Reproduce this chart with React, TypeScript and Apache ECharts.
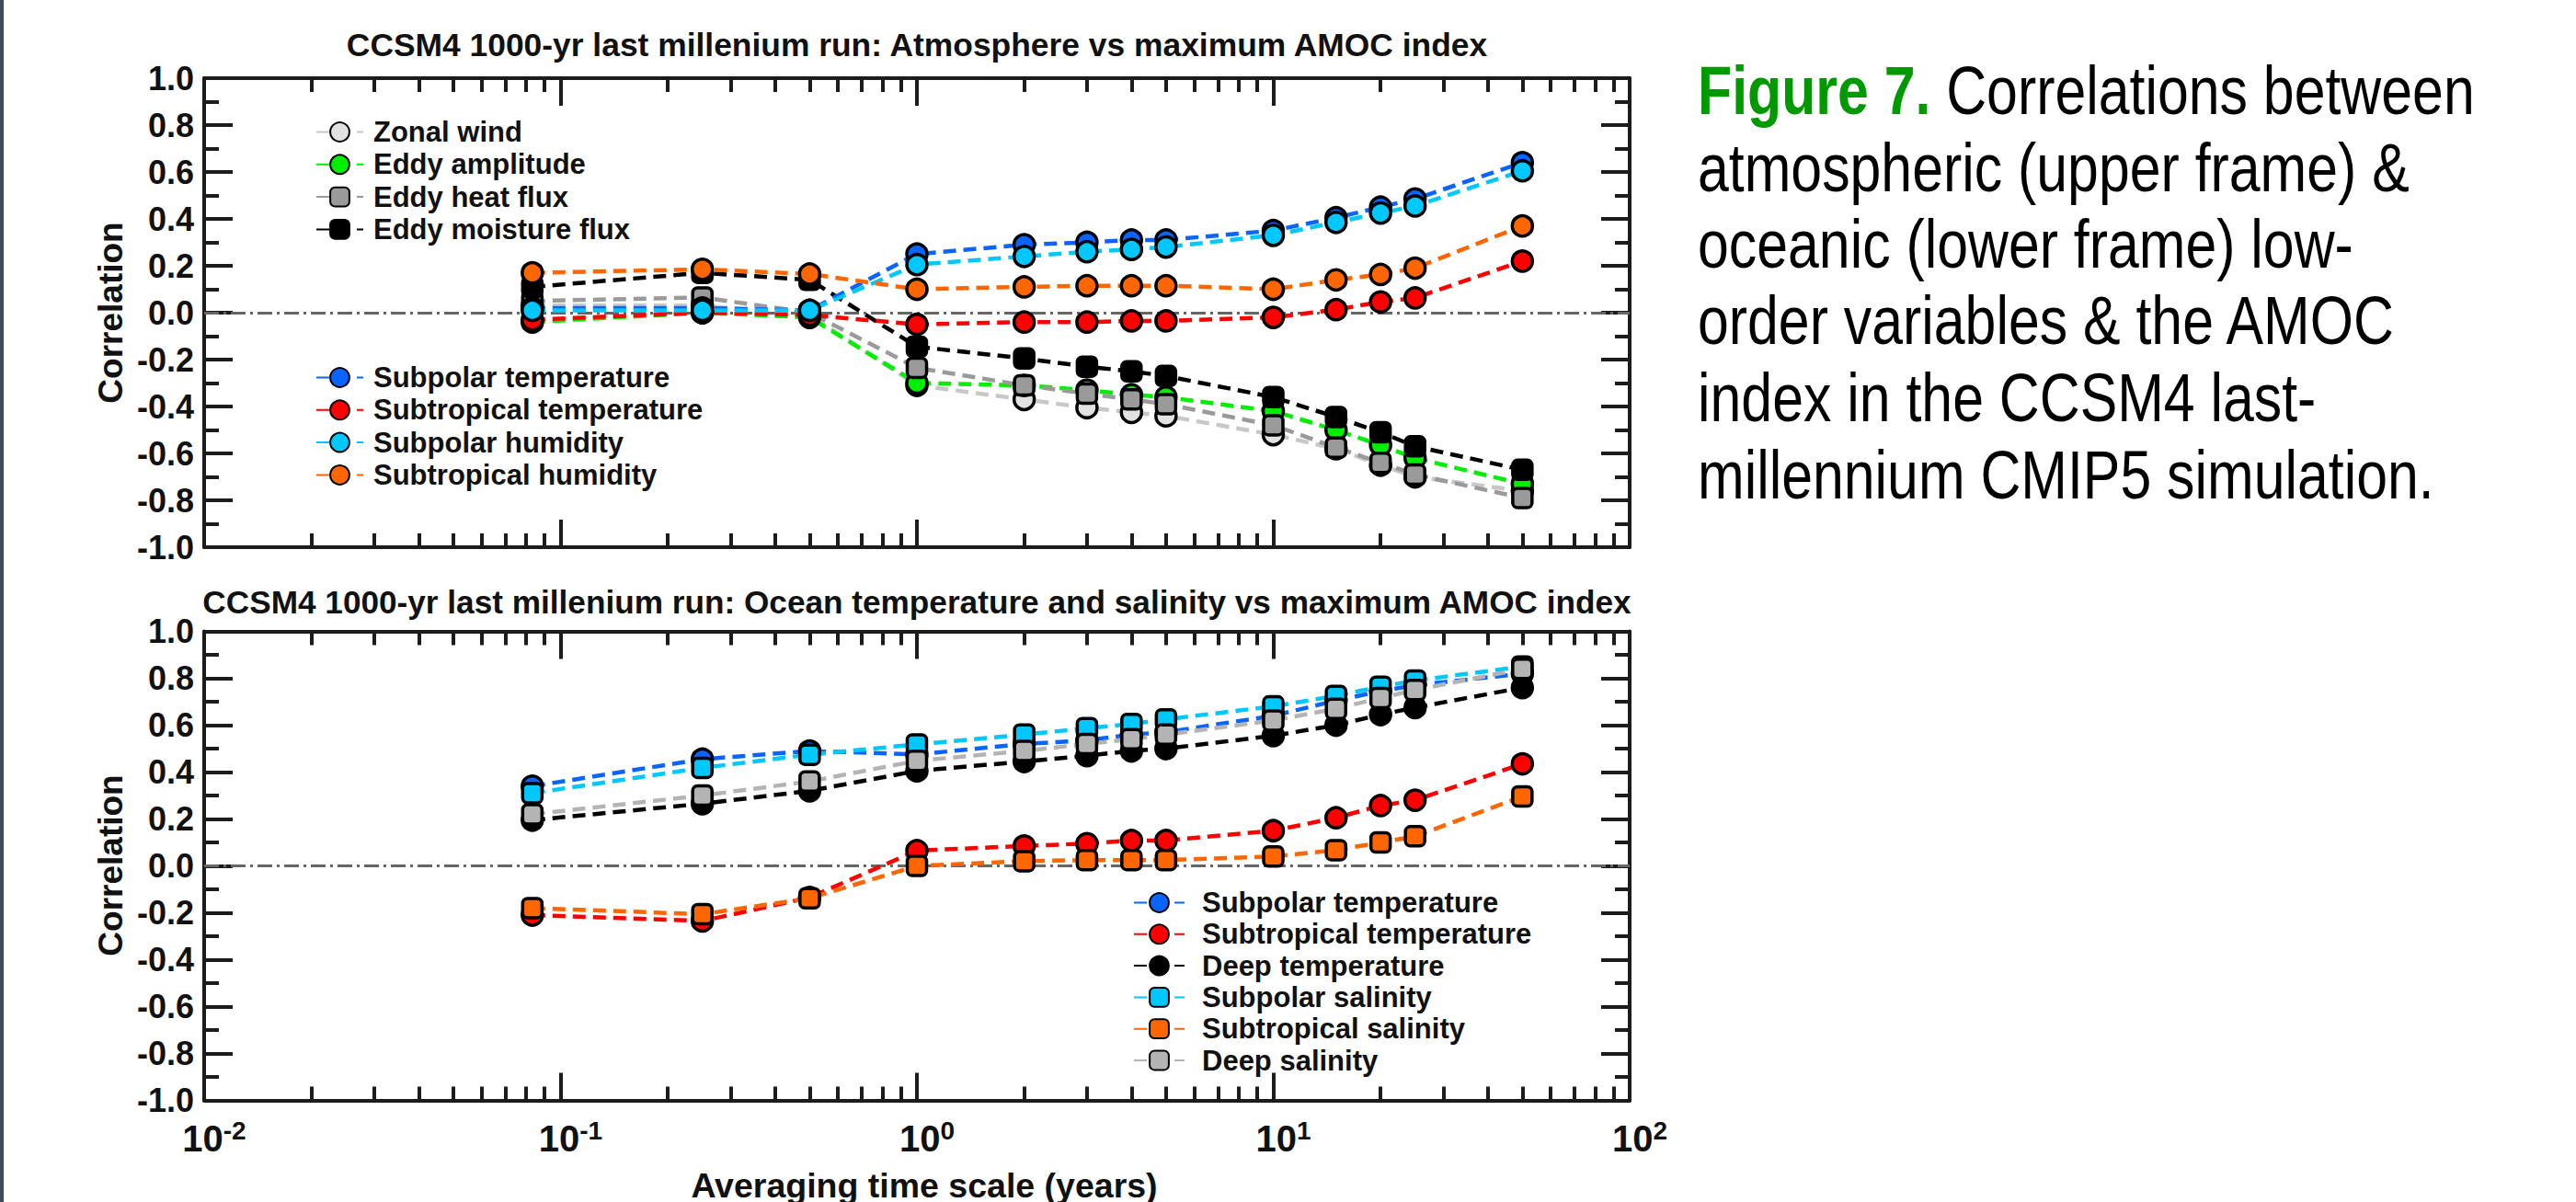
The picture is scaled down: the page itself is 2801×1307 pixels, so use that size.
import React, { useEffect, useRef } from "react";
import * as echarts from "echarts";

const FONT = '"Liberation Sans", Arial, Helvetica, sans-serif';

// Averaging time scales (years)
const timeScales = [1 / 12, 0.25, 0.5, 1, 2, 3, 4, 5, 10, 15, 20, 25, 50];

// Upper frame: atmosphere
const zonalWind = [0.03, 0.03, -0.01, -0.31, -0.37, -0.405, -0.425, -0.44, -0.52, -0.58, -0.65, -0.7, -0.76];
const eddyAmplitude = [-0.04, 0.0, -0.02, -0.3, -0.31, -0.33, -0.35, -0.36, -0.42, -0.5, -0.565, -0.62, -0.73];
const eddyHeatFlux = [0.05, 0.065, 0.0, -0.235, -0.31, -0.345, -0.37, -0.39, -0.48, -0.575, -0.64, -0.69, -0.79];
const eddyMoistureFlux = [0.11, 0.17, 0.14, -0.145, -0.195, -0.23, -0.25, -0.27, -0.36, -0.445, -0.51, -0.57, -0.67];
const subpolarTempAtm = [0.02, 0.02, 0.01, 0.25, 0.29, 0.3, 0.31, 0.31, 0.35, 0.405, 0.45, 0.485, 0.64];
const subtropTempAtm = [-0.03, 0.0, -0.01, -0.05, -0.04, -0.04, -0.035, -0.035, -0.02, 0.013, 0.046, 0.063, 0.22];
const subpolarHumidity = [0.01, 0.01, 0.01, 0.205, 0.24, 0.26, 0.27, 0.28, 0.33, 0.385, 0.425, 0.455, 0.605];
const subtropHumidity = [0.17, 0.185, 0.165, 0.1, 0.11, 0.115, 0.115, 0.115, 0.1, 0.14, 0.163, 0.19, 0.37];

// Lower frame: ocean
const subpolarTempOcn = [0.34, 0.455, 0.49, 0.475, 0.52, 0.535, 0.56, 0.57, 0.64, 0.705, 0.745, 0.77, 0.82];
const subtropTempOcn = [-0.21, -0.235, -0.135, 0.065, 0.085, 0.095, 0.108, 0.108, 0.15, 0.205, 0.257, 0.28, 0.435];
const deepTemp = [0.195, 0.265, 0.32, 0.405, 0.445, 0.47, 0.49, 0.5, 0.555, 0.6, 0.645, 0.675, 0.76];
const subpolarSalinity = [0.31, 0.418, 0.474, 0.518, 0.56, 0.587, 0.605, 0.625, 0.68, 0.725, 0.764, 0.79, 0.85];
const subtropSalinity = [-0.18, -0.206, -0.138, 0.0, 0.02, 0.025, 0.025, 0.025, 0.04, 0.067, 0.1, 0.126, 0.296];
const deepSalinity = [0.22, 0.3, 0.36, 0.448, 0.49, 0.52, 0.54, 0.56, 0.62, 0.67, 0.716, 0.75, 0.84];

// Axis ticks
const majorXTicks = [0.01, 0.1, 1, 10, 100];
const minorXTicks = [
  0.02, 0.03, 0.04, 0.05, 0.06, 0.07, 0.08, 0.09,
  0.2, 0.3, 0.4, 0.5, 0.6, 0.7, 0.8, 0.9,
  2, 3, 4, 5, 6, 7, 8, 9,
  20, 30, 40, 50, 60, 70, 80, 90,
];
const xTickExponents = ["-2", "-1", "0", "1", "2"];

const titleTop = "CCSM4 1000-yr last millenium run: Atmosphere vs maximum AMOC index";
const titleBottom = "CCSM4 1000-yr last millenium run: Ocean temperature and salinity vs maximum AMOC index";
const xTitle = "Averaging time scale (years)";
const yTitle = "Correlation";
const captionLines = [
  "atmospheric (upper frame) &",
  "oceanic (lower frame) low-",
  "order variables & the AMOC",
  "index in the CCSM4 last-",
  "millennium CMIP5 simulation.",
];

const AXIS_COLOR = "#1c1c1c";
const GRID_LEFT = 222;
const GRID_W = 1550;
const GRID_H = 510;
const GRID_TOPS = [85, 686.5];

function makeSeries(
  name: string,
  values: number[],
  lineColor: string,
  fillColor: string,
  symbol: string,
  grid: number,
  withZero: boolean
) {
  const s: any = {
    type: "line",
    name,
    xAxisIndex: grid * 4,
    yAxisIndex: grid * 2,
    data: timeScales.map((t, i) => [t, values[i]]),
    symbol,
    symbolSize: symbol === "circle" ? 22 : 21,
    lineStyle: { color: lineColor, width: 4.5, type: [14, 8] },
    itemStyle: { color: fillColor, borderColor: "#000", borderWidth: 3.5 },
    emphasis: { disabled: true },
    silent: true,
    z: 3,
  };
  if (withZero) {
    s.markLine = {
      silent: true,
      symbol: ["none", "none"],
      label: { show: false },
      z: 1,
      lineStyle: { color: "#666666", width: 3, type: [16, 5, 3, 5] },
      data: [{ yAxis: 0 }],
    };
  }
  return s;
}

function xAxesFor(grid: number, withLabels: boolean) {
  const base = {
    gridIndex: grid,
    type: "log",
    logBase: 10,
    min: 0.01,
    max: 100,
    splitLine: { show: false },
    minorSplitLine: { show: false },
  };
  const major = (position: string, labels: boolean) => ({
    ...base,
    position,
    axisLine: { show: true, onZero: false, lineStyle: { color: AXIS_COLOR, width: 4 } },
    axisTick: {
      show: true,
      inside: true,
      length: 30,
      customValues: majorXTicks,
      lineStyle: { color: AXIS_COLOR, width: 4 },
    },
    axisLabel: labels
      ? {
          show: true,
          customValues: majorXTicks,
          margin: 19,
          formatter: (v: number) =>
            "{b|10}{s|" + xTickExponents[Math.round(Math.log10(v)) + 2] + "}",
          rich: {
            b: {
              fontSize: 40,
              fontWeight: "bold",
              fontFamily: FONT,
              color: "#111",
              lineHeight: 44,
              padding: [0, 0, 0, 22],
            },
            s: {
              fontSize: 28,
              fontWeight: "bold",
              fontFamily: FONT,
              color: "#111",
              lineHeight: 8,
              verticalAlign: "top",
            },
          },
        }
      : { show: false },
  });
  const minor = (position: string) => ({
    ...base,
    position,
    axisLine: { show: false, onZero: false },
    axisTick: {
      show: true,
      inside: true,
      length: 15,
      customValues: minorXTicks,
      lineStyle: { color: AXIS_COLOR, width: 4 },
    },
    axisLabel: { show: false },
  });
  return [major("bottom", withLabels), minor("bottom"), major("top", false), minor("top")];
}

function yAxesFor(grid: number) {
  const common = {
    gridIndex: grid,
    type: "value",
    min: -1,
    max: 1,
    interval: 0.2,
    splitLine: { show: false },
    minorSplitLine: { show: false },
    axisLine: { show: true, onZero: false, lineStyle: { color: AXIS_COLOR, width: 4 } },
    axisTick: { show: true, inside: true, length: 31, lineStyle: { color: AXIS_COLOR, width: 4 } },
    minorTick: { show: true, splitNumber: 2, length: 16, lineStyle: { color: AXIS_COLOR, width: 4 } },
  };
  return [
    {
      ...common,
      position: "left",
      axisLabel: {
        show: true,
        margin: 11,
        fontSize: 36,
        fontWeight: "bold",
        fontFamily: FONT,
        color: "#111",
        formatter: (v: number) => v.toFixed(1),
      },
    },
    { ...common, position: "right", axisLabel: { show: false } },
  ];
}

const legendText = {
  fontSize: 31,
  fontWeight: "bold",
  fontFamily: FONT,
  color: "#111",
  lineHeight: 30,
  padding: [0, 0, 0, 6],
};

export default function App() {
  const ref = useRef<HTMLDivElement>(null);
  useEffect(() => {
    if (!ref.current) return;
    const chart = echarts.init(ref.current, undefined, { renderer: "svg" });
    const series = [
      makeSeries("Zonal wind", zonalWind, "#c8c8c8", "#e2e2e2", "circle", 0, true),
      makeSeries("Eddy amplitude", eddyAmplitude, "#00ee00", "#00ee00", "circle", 0, false),
      makeSeries("Eddy heat flux", eddyHeatFlux, "#9a9a9a", "#9a9a9a", "roundRect", 0, false),
      makeSeries("Eddy moisture flux", eddyMoistureFlux, "#000000", "#000000", "roundRect", 0, false),
      makeSeries("Subpolar temperature", subpolarTempAtm, "#0a64ff", "#0a64ff", "circle", 0, false),
      makeSeries("Subtropical temperature", subtropTempAtm, "#ff0000", "#ff0000", "circle", 0, false),
      makeSeries("Subpolar humidity", subpolarHumidity, "#00c8ff", "#00c8ff", "circle", 0, false),
      makeSeries("Subtropical humidity", subtropHumidity, "#ff6600", "#ff6600", "circle", 0, false),

      makeSeries("Subpolar temperature", subpolarTempOcn, "#0a64ff", "#0a64ff", "circle", 1, true),
      makeSeries("Subtropical temperature", subtropTempOcn, "#ff0000", "#ff0000", "circle", 1, false),
      makeSeries("Deep temperature", deepTemp, "#000000", "#000000", "circle", 1, false),
      makeSeries("Subpolar salinity", subpolarSalinity, "#00c8ff", "#00c8ff", "roundRect", 1, false),
      makeSeries("Subtropical salinity", subtropSalinity, "#ff6600", "#ff6600", "roundRect", 1, false),
      makeSeries("Deep salinity", deepSalinity, "#b4b4b4", "#b4b4b4", "roundRect", 1, false),
    ];

    const textEl = (
      text: string,
      x: number,
      y: number,
      size: number,
      opts: any = {}
    ) => ({
      type: "text",
      x,
      y,
      rotation: opts.rotation || 0,
      silent: true,
      style: {
        text,
        fontSize: size,
        fontWeight: opts.weight || "bold",
        fontFamily: FONT,
        fill: opts.fill || "#111",
        textAlign: opts.align || "center",
        textVerticalAlign: "middle",
        align: opts.align || "center",
        verticalAlign: "middle",
        rich: opts.rich,
      },
    });

    const capSize = 73.6;
    const capLineCenters = [98, 182, 265, 348, 432, 516];
    const captionChildren: any[] = [
      textEl("{g|Figure 7.} Correlations between", 0, capLineCenters[0], capSize, {
        weight: "normal",
        fill: "#000",
        align: "left",
        rich: {
          g: {
            fill: "#009a00",
            color: "#009a00",
            fontWeight: "bold",
            fontSize: capSize,
            fontFamily: FONT,
          },
        },
      }),
      ...captionLines.map((line, i) =>
        textEl(line, 0, capLineCenters[i + 1], capSize, { weight: "normal", fill: "#000", align: "left" })
      ),
    ];

    const legendCommon = {
      orient: "vertical",
      itemHeight: 26,
      selectedMode: false,
      textStyle: legendText,
    };

    chart.setOption({
      animation: false,
      backgroundColor: "#ffffff",
      grid: GRID_TOPS.map((top) => ({ left: GRID_LEFT, top, width: GRID_W, height: GRID_H, containLabel: false })),
      xAxis: [...xAxesFor(0, false), ...xAxesFor(1, true)],
      yAxis: [...yAxesFor(0), ...yAxesFor(1)],
      legend: [
        {
          ...legendCommon,
          data: ["Zonal wind", "Eddy amplitude", "Eddy heat flux", "Eddy moisture flux"],
          left: 338,
          top: 123,
          itemWidth: 51,
          itemGap: 4.3,
        },
        {
          ...legendCommon,
          data: ["Subpolar temperature", "Subtropical temperature", "Subpolar humidity", "Subtropical humidity"],
          left: 338,
          top: 390,
          itemWidth: 51,
          itemGap: 4.3,
        },
        {
          ...legendCommon,
          data: [
            "Subpolar temperature",
            "Subtropical temperature",
            "Deep temperature",
            "Subpolar salinity",
            "Subtropical salinity",
            "Deep salinity",
          ],
          left: 1227,
          top: 961,
          itemWidth: 55,
          itemGap: 3.3,
          textStyle: { ...legendText, padding: [0, 0, 0, 14] },
        },
      ],
      graphic: [
        { type: "rect", silent: true, shape: { x: 0, y: 0, width: 4, height: 1307 }, style: { fill: "#3d4b5c" } },
        textEl(titleTop, 997, 49, 35.4),
        textEl(titleBottom, 997, 654, 35.2),
        textEl(yTitle, 120, 340, 37, { rotation: Math.PI / 2 }),
        textEl(yTitle, 120, 941, 37, { rotation: Math.PI / 2 }),
        textEl(xTitle, 1005, 1289, 37.5),
        {
          type: "group",
          x: 1846,
          y: 0,
          scaleX: 0.826,
          silent: true,
          children: captionChildren,
        },
      ],
      series,
    });
    return () => chart.dispose();
  }, []);
  return (
    <div
      ref={ref}
      style={{ position: "absolute", left: 0, top: 0, width: 2801, height: 1307, background: "#fff" }}
    />
  );
}
